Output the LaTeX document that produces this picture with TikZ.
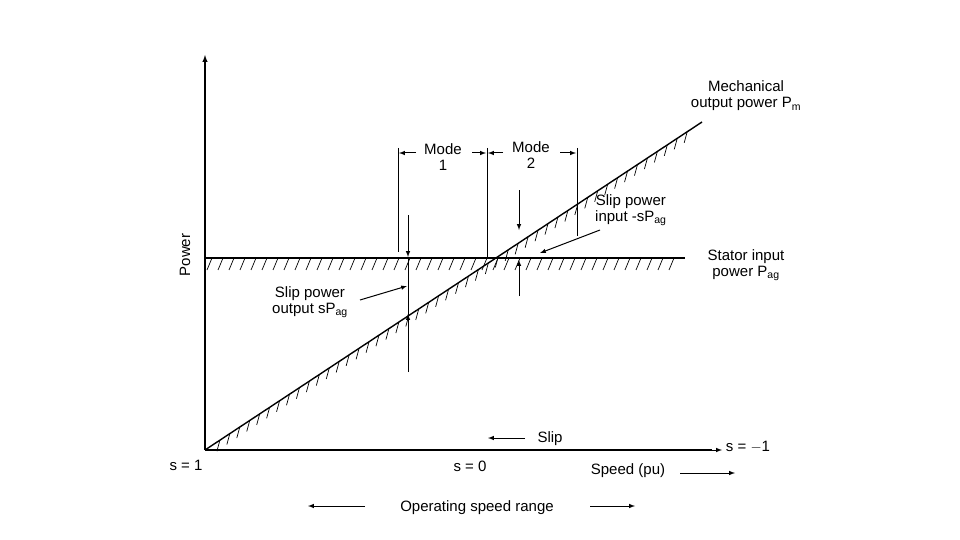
\documentclass[tikz,border=0pt]{standalone}
\usetikzlibrary{calc}
\usepackage{fontspec}
\setmainfont{Liberation Sans}
\begin{document}
\begin{tikzpicture}[x=1pt,y=-1pt,font=\fontsize{15}{16}\selectfont,
 ln/.style={line width=1.4pt},
 arr/.style={-latex,line width=1pt},
 lbl/.style={inner sep=0pt,align=center}]
\useasboundingbox (0,0) rectangle (960,540);
\fill[white] (0,0) rectangle (960,540);
\coordinate (O) at (205,450);
\coordinate (Ytop) at (205,55);
\coordinate (Hl) at (205,258);
\coordinate (Hr) at (685,258);
\coordinate (Dt) at (702,122);
\draw[ln,-latex] (O) -- (Ytop);
\draw[ln] (O) -- (712,450);
\draw[ln] (Hl) -- (Hr);
\draw[ln] (O) -- (Dt);
% hatching under horizontal line
\foreach \x in {212,223,...,684} \draw[line width=0.7pt] (\x,258) -- (\x-5,270);
% hatching on diagonal
\foreach \t in {0.03,0.05,...,0.99} \draw[line width=0.7pt] ($(O)!\t!(Dt)$) -- ++(-3,11);
% mode lines
\draw[line width=1pt] (398,148) -- (398,252);
\draw[line width=1pt] (487,148) -- (487,258);
\draw[line width=1pt] (577,148) -- (577,236);
\node[lbl] (m1) at (443,157) {Mode\\1};
\node[lbl] (m2) at (531,155) {Mode\\2};
\draw[arr] (416,153) -- (399,153);
\draw[arr] (472,153) -- (486,153);
\draw[arr] (503,153) -- (488,153);
\draw[arr] (560,153) -- (576,153);
% arrows at x=408
\draw[arr] (408,215) -- (408,257);
\draw[line width=1pt] (408,258) -- (408,320);
\draw[arr] (408,372) -- (408,314);
% arrows at x=519
\draw[arr] (519,190) -- (519,230);
\draw[arr] (519,296) -- (519,260);
% labels
\node[lbl] (so) at (310,302) {Slip power\\output sP$_{\rm ag}$};
\draw[arr] (360,300) -- (407,286);
\node[lbl,anchor=west] (si) at (595,210) {Slip power\\input -sP$_{\rm ag}$};
\draw[arr] (600,230) -- (540,253);
\node[lbl] (mp) at (746,96) {Mechanical\\output power P$_{\rm m}$};
\node[lbl] (sp) at (746,265) {Stator input\\power P$_{\rm ag}$};
\node[rotate=90] (pw) at (185,255) {Power};
\node (s1) at (186,465) {s = 1};
\node (s0) at (470,466) {s = 0};
\node (sm) at (748,447) {s = $-$1};
\draw[arr] (700,450) -- (722,450);
\node (sl) at (550,439) {Slip};
\draw[arr] (525,438) -- (488,438);
\node (spd) at (628,471) {Speed (pu)};
\draw[arr] (680,473) -- (735,473);
\node (osr) at (477,508) {Operating speed range};
\draw[arr] (365,506) -- (308,506);
\draw[arr] (590,506) -- (635,506);
\end{tikzpicture}
\end{document}
